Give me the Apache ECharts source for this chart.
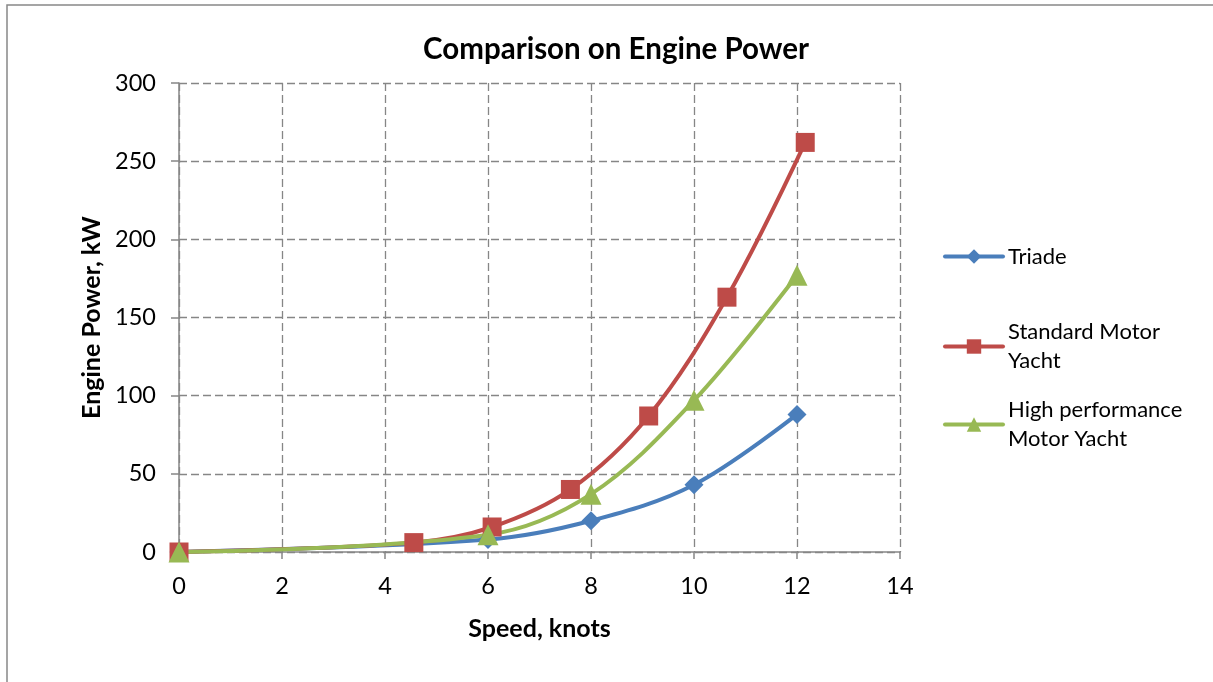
<!DOCTYPE html>
<html>
<head>
<meta charset="utf-8">
<script src="https://cdn.jsdelivr.net/npm/echarts@6/dist/echarts.min.js"></script>
<style>
html,body{margin:0;padding:0;background:#fff;}
#chart{width:1213px;height:682px;}
</style>
</head>
<body>
<div id="chart"></div>
<script>
const titleText = 'Comparison on Engine Power';
const xAxisName = 'Speed, knots';
const yAxisName = 'Engine Power, kW';
const seriesNames = ['Triade', 'Standard Motor\nYacht', 'High performance\nMotor Yacht'];

const triadeSpeed = [0, 6, 8, 10, 12];
const triadePower = [0, 8, 20, 43, 88];

const standardSpeed = [0, 4.56, 6.08, 7.6, 9.12, 10.64, 12.16];
const standardPower = [0, 6, 16, 40, 87, 163, 262];

const highPerfSpeed = [0, 6, 8, 10, 12];
const highPerfPower = [0, 11, 37, 97, 177];

const pair = (xs, ys) => xs.map((x, i) => [x, ys[i]]);

const FONT = 'Lato, "Open Sans", sans-serif';
const colors = ['#4a7ebb', '#be4b48', '#98b954'];
const AX = '#868686';

const chart = echarts.init(document.getElementById('chart'), null, {renderer: 'canvas'});

function legendFor(i, top, multi) {
  return {
    orient: 'vertical',
    left: 938,
    top: top,
    itemWidth: 58,
    itemHeight: 18,
    itemGap: 0,
    lineStyle: {width: 4, cap: 'round'},
    data: [{name: seriesNames[i]}],
    textStyle: {
      fontFamily: FONT, fontSize: 22, color: '#000', lineHeight: 29,
      padding: multi ? [29, 0, 0, 0] : 0
    }
  };
}

chart.setOption({
  animation: false,
  backgroundColor: '#fff',
  color: colors,
  title: {
    text: titleText,
    left: 611,
    textAlign: 'center',
    top: 29,
    textStyle: {fontFamily: FONT, fontWeight: 'bold', fontSize: 29.5, color: '#000'}
  },
  graphic: [{
    type: 'rect',
    shape: {x: 7, y: 5, width: 1400, height: 900},
    style: {fill: 'none', stroke: '#888', lineWidth: 1.5},
    silent: true
  }],
  legend: [
    legendFor(0, 237, false),
    legendFor(1, 298, true),
    legendFor(2, 376, true)
  ],
  grid: {left: 179, right: 313, top: 83, bottom: 130, containLabel: false},
  xAxis: {
    type: 'value',
    min: 0, max: 14, interval: 2,
    name: xAxisName,
    nameLocation: 'middle',
    nameGap: 64,
    nameTextStyle: {fontFamily: FONT, fontWeight: 'bold', fontSize: 25, color: '#000'},
    axisLine: {show: true, onZero: false, lineStyle: {color: AX, width: 1.5}},
    axisTick: {show: true, length: 7, inside: false, lineStyle: {color: AX, width: 1.5}},
    axisLabel: {fontFamily: FONT, fontSize: 23.5, color: '#000', margin: 22},
    splitLine: {show: true, lineStyle: {color: AX, width: 1.3, type: [8, 4]}}
  },
  yAxis: {
    type: 'value',
    min: 0, max: 300, interval: 50,
    name: yAxisName,
    nameLocation: 'middle',
    nameGap: 75,
    nameTextStyle: {fontFamily: FONT, fontWeight: 'bold', fontSize: 25, color: '#000'},
    axisLine: {show: true, lineStyle: {color: AX, width: 1.5}},
    axisTick: {show: true, length: 8, lineStyle: {color: AX, width: 1.5}},
    axisLabel: {fontFamily: FONT, fontSize: 23.5, color: '#000', margin: 23},
    splitLine: {show: true, lineStyle: {color: AX, width: 1.3, type: [8, 4]}}
  },
  series: [
    {
      name: seriesNames[0], type: 'line', smooth: 0.35,
      data: pair(triadeSpeed, triadePower),
      symbol: 'diamond', symbolSize: 19,
      lineStyle: {width: 4, color: colors[0]},
      itemStyle: {color: colors[0]}
    },
    {
      name: seriesNames[1], type: 'line', smooth: 0.35,
      data: pair(standardSpeed, standardPower),
      symbol: 'rect', symbolSize: 19,
      lineStyle: {width: 4, color: colors[1]},
      itemStyle: {color: colors[1]}
    },
    {
      name: seriesNames[2], type: 'line', smooth: 0.35,
      data: pair(highPerfSpeed, highPerfPower),
      symbol: 'triangle', symbolSize: 21,
      lineStyle: {width: 4, color: colors[2]},
      itemStyle: {color: colors[2]}
    }
  ]
});
</script>
</body>
</html>
